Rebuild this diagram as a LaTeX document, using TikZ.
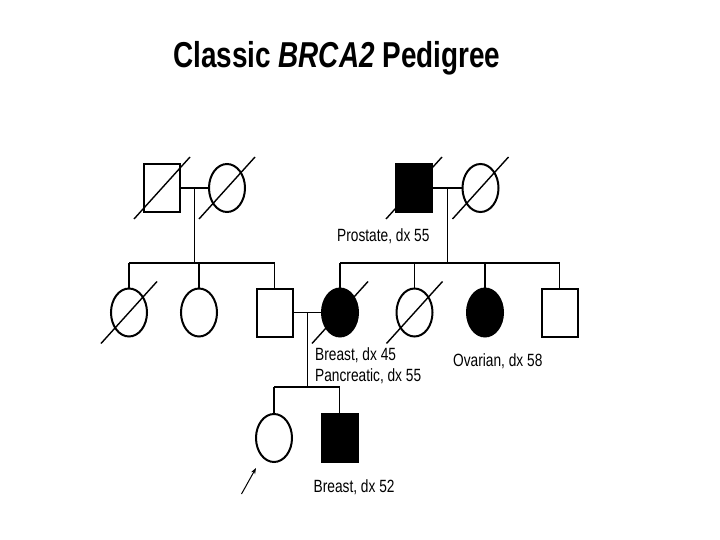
\documentclass[tikz,border=0pt]{standalone}
\usepackage{fontspec}
\setmainfont{Liberation Sans}
\usetikzlibrary{shapes.geometric,arrows.meta,calc}
\tikzset{
  sq/.style={draw,line width=2pt,rectangle,minimum width=36pt,minimum height=48pt,inner sep=0pt},
  ci/.style={draw,line width=2pt,ellipse,minimum width=36pt,minimum height=48pt,inner sep=0pt},
  aff/.style={fill=black},
  conn/.style={line width=1.4pt},
  slash/.style={line width=1.4pt},
  lbl/.style={anchor=base west,inner sep=0pt,font=\fontsize{17.7}{20}\selectfont},
}
\newcommand{\nar}[1]{\scalebox{0.775}[1]{#1}}
\begin{document}
\begin{tikzpicture}[x=1pt,y=-1pt]
\useasboundingbox[fill=white] (0,0) rectangle (720,540);
% title
\node[anchor=base west,inner sep=0pt,font=\fontsize{36}{40}\selectfont\bfseries] (title) at (173,67.5)
  {\nar{Classic \textit{BRCA2} Pedigree}};
% generation I
\node[sq] (s1) at (162,188) {};
\node[ci] (c1) at (227,188) {};
\node[sq,aff] (s2) at (414,188) {};
\node[ci] (c2) at (480.5,188) {};
% generation II
\node[ci] (a1) at (129,312.5) {};
\node[ci] (a2) at (199,312.5) {};
\node[sq] (a3) at (274.5,312.5) {};
\node[ci,aff] (a4) at (340,312.5) {};
\node[ci] (a5) at (414.5,312.5) {};
\node[ci,aff] (a6) at (485,312.5) {};
\node[sq] (a7) at (559.5,312.5) {};
% generation III
\node[ci] (p1) at (274,438) {};
\node[sq,aff] (p2) at (339.5,438) {};
% slashes (deceased)
\foreach \n in {s1,c1,s2,c2,a1,a4,a5}{
  \draw[slash] ($(\n)+(-28,31)$) -- ($(\n)+(28,-31)$);
}
% marriages and descent, left family
\draw[conn] (s1.east) -- (c1.west);
\coordinate (m1) at ($(s1.east)!0.5!(c1.west)$);
\coordinate (sib1) at (m1 |- 0,263);
\draw[conn] (m1) -- (sib1);
\draw[conn] (a1.north |- sib1) -- (a3.north |- sib1);
\foreach \n in {a1,a2,a3}{ \draw[conn] (\n.north |- sib1) -- (\n.north); }
% right family
\draw[conn] (s2.east) -- (c2.west);
\coordinate (m2) at ($(s2.east)!0.5!(c2.west)$);
\coordinate (sib2) at (m2 |- 0,263);
\draw[conn] (m2) -- (sib2);
\draw[conn] (a4.north |- sib2) -- (a7.north |- sib2);
\foreach \n in {a4,a5,a6,a7}{ \draw[conn] (\n.north |- sib2) -- (\n.north); }
% generation II couple
\draw[conn] (a3.east) -- (a4.west);
\coordinate (m3) at ($(a3.east)!0.5!(a4.west)$);
\coordinate (sib3) at (m3 |- 0,387);
\draw[conn] (m3) -- (sib3);
\draw[conn] (p1.north |- sib3) -- (p2.north |- sib3);
\foreach \n in {p1,p2}{ \draw[conn] (\n.north |- sib3) -- (\n.north); }
% proband arrow
\coordinate (arr) at (241.5,494);
\draw[line width=1pt,-{Stealth[length=6pt,width=4.5pt]}] (arr) -- ($(p1)+(-18,30)$);
% labels
\node[lbl] (l1) at (337,241.7) {\nar{Prostate, dx 55}};
\node[lbl] (l2) at (315,360) {\nar{Breast, dx 45}};
\node[lbl] (l3) at (315,381.7) {\nar{Pancreatic, dx 55}};
\node[lbl] (l4) at (453,366.5) {\nar{Ovarian, dx 58}};
\node[lbl] (l5) at (313.5,492) {\nar{Breast, dx 52}};
\end{tikzpicture}
\end{document}
